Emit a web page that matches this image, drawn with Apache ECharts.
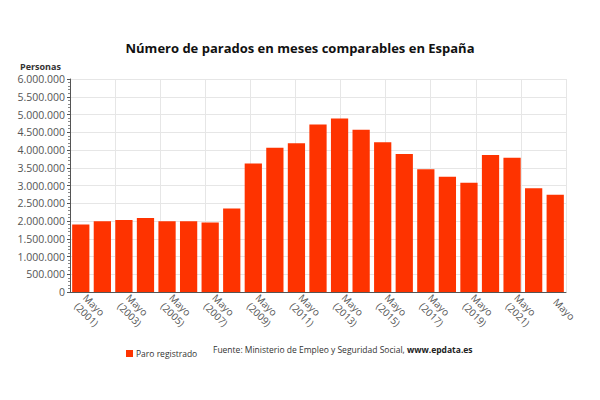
<!DOCTYPE html>
<html>
<head>
<meta charset="utf-8">
<script src="https://cdn.jsdelivr.net/npm/echarts@6/dist/echarts.min.js"></script>
<style>
  html, body { margin: 0; padding: 0; background: #fff; }
  #chart { width: 600px; height: 400px; }
</style>
</head>
<body>
<div id="chart"></div>
<script>
var years = ['2001', '2002', '2003', '2004', '2005', '2006', '2007', '2008', '2009', '2010', '2011', '2012',
  '2013', '2014', '2015', '2016', '2017', '2018', '2019', '2020', '2021', '2022', '2023'];
var categories = years.map(function(y, i) { return i === years.length - 1 ? 'Mayo' : 'Mayo\n(' + y + ')'; });
var paro = [1900000, 1990000, 2030000, 2085000, 1990000, 1990000, 1960000, 2350000, 3620000, 4060000, 4190000,
  4715000, 4890000, 4570000, 4215000, 3890000, 3460000, 3250000, 3080000, 3860000, 3780000, 2920000, 2740000];
var yTicks = { min: 0, max: 6000000, interval: 500000 };

var font = '"Open Sans", "Noto Sans", sans-serif';
var red = '#fe3300';

function fmt(v) {
  return String(v).replace(/\B(?=(\d{3})+(?!\d))/g, '.');
}

var chart = echarts.init(document.getElementById('chart'), null, { renderer: 'svg' });
chart.setOption({
  animation: false,
  textStyle: { fontFamily: font },
  title: {
    text: 'Número de parados en meses comparables en España',
    left: 'center', top: 36,
    textStyle: { fontFamily: font, fontSize: 13, fontWeight: 'bold', color: '#111' }
  },
  legend: {
    data: ['Paro registrado'],
    left: 121, top: 344,
    icon: 'rect', itemWidth: 7, itemHeight: 7, itemGap: 3,
    textStyle: { fontFamily: font, fontSize: 8.5, color: '#333', padding: [0, 0, 0, -2] }
  },
  graphic: [
    {
      type: 'text', left: 20, top: 62,
      style: { text: 'Personas', font: 'bold 9px ' + font, fill: '#333' }
    },
    {
      type: 'text', left: 213, top: 345,
      style: {
        text: '{a|Fuente: Ministerio de Empleo y Seguridad Social, }{b|www.epdata.es}',
        rich: {
          a: { fontFamily: font, fontSize: 8.5, fill: '#333', color: '#333' },
          b: { fontFamily: font, fontSize: 8.5, fontWeight: 'bold', fill: '#222', color: '#222' }
        }
      }
    }
  ],
  grid: { left: 70, right: 34, top: 79, bottom: 108 },
  xAxis: [
    {
      type: 'category',
      data: categories,
      axisLine: { lineStyle: { color: '#555' } },
      axisTick: { alignWithLabel: true, interval: 1, length: 4, lineStyle: { color: '#555' } },
      axisLabel: { interval: 1, rotate: -45, color: '#555', fontSize: 10, lineHeight: 12, margin: 8 },
      splitLine: { show: false }
    },
    {
      type: 'value', min: 0, max: 11, interval: 1, position: 'bottom',
      axisLine: { show: false }, axisTick: { show: false }, axisLabel: { show: false },
      splitLine: { show: true, lineStyle: { color: '#e6e6e6' } }
    }
  ],
  yAxis: {
    type: 'value',
    min: yTicks.min, max: yTicks.max, interval: yTicks.interval,
    axisLine: { show: true, lineStyle: { color: '#555' } },
    axisTick: { show: true, length: 3, lineStyle: { color: '#555' } },
    minorTick: { show: true, splitNumber: 5, length: 2, lineStyle: { color: '#888' } },
    axisLabel: { color: '#555', fontSize: 10.5, margin: 5, formatter: fmt },
    splitLine: { lineStyle: { color: '#e6e6e6' } }
  },
  series: [{
    name: 'Paro registrado',
    type: 'bar',
    data: paro,
    xAxisIndex: 0,
    barCategoryGap: '20%',
    itemStyle: { color: red }
  }]
});
</script>
</body>
</html>
